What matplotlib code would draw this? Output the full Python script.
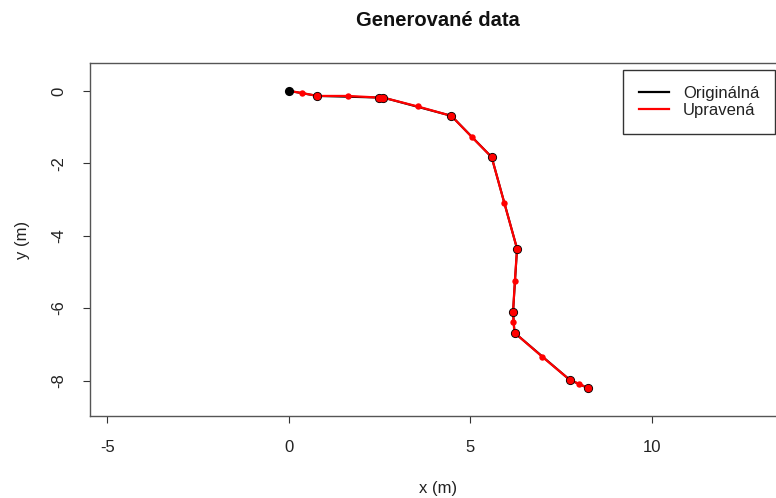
import numpy as np
import matplotlib
matplotlib.use("Agg")
import matplotlib.pyplot as plt
from matplotlib.lines import Line2D

plt.rcParams['font.family'] = ['Liberation Sans', 'DejaVu Sans']
plt.rcParams['axes.unicode_minus'] = False

# originalne body (merane)
orig_x = [0.0, 0.79, 2.49, 2.60, 4.48, 5.59, 6.29, 6.18, 6.22, 7.74, 8.25]
orig_y = [0.0, -0.14, -0.185, -0.185, -0.69, -1.83, -4.36, -6.10, -6.68, -7.98, -8.21]

# upravena trajektoria (vratane doplnenych bodov)
upr_x = [0.0, 0.37, 0.79, 1.62, 2.49, 2.60, 3.55, 4.48, 5.05, 5.59,
         5.94, 6.29, 6.23, 6.18, 6.19, 6.22, 6.98, 7.74, 7.99, 8.25]
upr_y = [0.0, -0.06, -0.14, -0.14, -0.185, -0.185, -0.43, -0.69, -1.28, -1.83,
         -3.10, -4.36, -5.24, -6.10, -6.37, -6.68, -7.34, -7.98, -8.09, -8.21]
upr_orig = [1, 0, 1, 0, 1, 1, 0, 1, 0, 1, 0, 1, 0, 1, 0, 1, 0, 1, 0, 1]

xticks = [-5, 0, 5, 10]
yticks = [0, -2, -4, -6, -8]

W, H = 776, 498
fig = plt.figure(figsize=(W / 100, H / 100), dpi=100)
ax = fig.add_axes([90 / W, (H - 416) / H, (787 - 90) / W, (416 - 63) / H])

upr_x = np.array(upr_x)
upr_y = np.array(upr_y)
m = np.array(upr_orig) == 1

ax.plot(orig_x, orig_y, color='black', lw=1.5, zorder=1)
ax.plot(upr_x, upr_y, color='red', lw=1.6, zorder=2)
ax.plot(orig_x, orig_y, 'o', color='black', ms=6.6, mew=0, zorder=3)
ax.plot(upr_x[m][1:], upr_y[m][1:], 'o', color='red', ms=5.4, mew=0, zorder=4)
ax.plot(upr_x[~m], upr_y[~m], 'o', color='red', ms=4.6, mew=0, zorder=4)

ax.set_xlim(-5.48, 13.73)
ax.set_ylim(-8.98, 0.77)
ax.set_xticks(xticks)
ax.set_yticks(yticks)
ax.set_yticklabels([str(v) for v in yticks], rotation=90, va='center')
ax.tick_params(length=5, width=0.8, color='#333333', labelsize=12,
               labelcolor='#222222', pad=12)
for s in ax.spines.values():
    s.set_color('#555555')
    s.set_linewidth(1.0)

fig.text(438 / W, 1 - 20 / H, 'Generované data', ha='center', va='center',
         fontsize=14.5, fontweight='bold', color='#111111')
fig.text(438 / W, 1 - 488 / H, 'x (m)', ha='center', va='center',
         fontsize=12, color='#222222')
fig.text(22 / W, 1 - 240 / H, 'y (m)', ha='center', va='center',
         rotation=90, fontsize=12, color='#222222')

handles = [Line2D([], [], color='black', lw=1.6), Line2D([], [], color='red', lw=1.6)]
leg = fig.legend(handles, ['Originálná', 'Upravená'], loc='upper left',
                 bbox_to_anchor=(623 / W, 1 - 70 / H), fontsize=12,
                 frameon=True, fancybox=False, handlelength=1.8,
                 handletextpad=0.85, borderpad=0.95, labelspacing=0.12,
                 borderaxespad=0)
leg.get_frame().set_edgecolor('black')
leg.get_frame().set_linewidth(1.0)
for t in leg.get_texts():
    t.set_color('#222222')

fig.savefig('out.png', dpi=100)
